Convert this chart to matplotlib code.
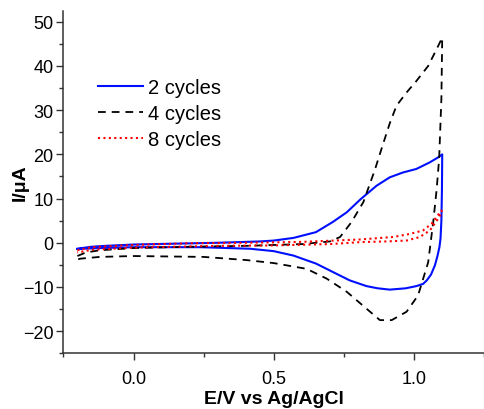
import matplotlib
matplotlib.use("Agg")
import matplotlib.pyplot as plt
from matplotlib.ticker import MultipleLocator

plt.rcParams["font.family"] = ["Liberation Sans", "DejaVu Sans"]

# 2 cycles (blue, solid): forward sweep then reverse sweep
E_2 = [-0.20, -0.15, -0.10, 0.00, 0.15, 0.30, 0.45, 0.50, 0.57, 0.65, 0.71, 0.76,
       0.81, 0.866, 0.913, 0.96, 1.008, 1.056, 1.085, 1.100,
       1.099, 1.097, 1.094, 1.090, 1.083, 1.074, 1.060, 1.045, 1.032, 1.008,
       0.970, 0.913, 0.870, 0.830, 0.770, 0.710, 0.650, 0.570, 0.500, 0.415,
       0.237, 0.000, -0.120, -0.200]
I_2 = [-1.35, -0.9, -0.7, -0.4, -0.2, 0.0, 0.3, 0.5, 1.1, 2.4, 4.7, 6.9,
       9.9, 12.9, 14.8, 15.9, 16.7, 18.2, 19.3, 20.0,
       12.0, 5.0, 1.0, -1.0, -3.0, -5.1, -7.2, -8.5, -9.3, -9.8,
       -10.3, -10.6, -10.3, -9.8, -8.5, -6.6, -4.7, -2.9, -1.9, -1.35,
       -1.0, -1.0, -1.2, -1.4]

# 4 cycles (black, dashed)
E_4 = [-0.20, -0.17, -0.12, 0.00, 0.20, 0.40, 0.60, 0.70, 0.736, 0.777, 0.819,
       0.86, 0.89, 0.913, 0.937, 0.973, 1.008, 1.05, 1.08, 1.100,
       1.097, 1.089, 1.080, 1.068, 1.050, 1.014, 0.973, 0.920, 0.878, 0.830,
       0.760, 0.688, 0.617, 0.500, 0.400, 0.250, 0.000, -0.120, -0.190, -0.200]
I_4 = [-3.0, -2.2, -1.7, -1.2, -0.9, -0.7, -0.3, 0.3, 1.3, 4.7, 9.2,
       16.5, 22.5, 27.0, 31.0, 34.0, 36.6, 40.0, 43.8, 46.4,
       32.5, 19.0, 12.0, 4.7, -4.4, -11.9, -15.6, -17.5, -17.5, -14.9,
       -11.1, -8.1, -5.9, -4.6, -3.9, -3.2, -3.0, -3.2, -3.6, -3.8]

# 8 cycles (red, dotted)
E_8 = [-0.20, -0.15, 0.00, 0.20, 0.40, 0.60, 0.81, 0.84, 0.925, 0.985, 1.032,
       1.062, 1.097, 1.100, 1.085, 1.056, 1.020, 0.973, 0.900, 0.810, 0.700,
       0.500, 0.300, 0.000, -0.150, -0.200]
I_8 = [-1.7, -1.0, -0.5, -0.1, 0.0, 0.2, 0.75, 0.9, 1.3, 2.0, 2.8,
       4.3, 7.3, 7.0, 5.4, 2.8, 1.3, 0.5, 0.3, 0.15, -0.3,
       -0.6, -0.7, -1.1, -1.6, -2.2]

fig = plt.figure(figsize=(4.85, 4.10), dpi=100)
ax = fig.add_axes([0.1306, 0.1359, 0.868, 0.8356])

ax.plot(E_2, I_2, color="#0010ff", linewidth=1.5, label="2 cycles")
ax.plot(E_4, I_4, color="black", linewidth=1.3, linestyle=(0, (4.3, 3.3)), label="4 cycles")
ax.plot(E_8, I_8, color="#ff0000", linewidth=1.5, linestyle=(0, (1, 1.6)), label="8 cycles")

ax.set_xlim(-0.25, 1.25)
ax.set_ylim(-25, 52.5)
ax.xaxis.set_major_locator(MultipleLocator(0.5))
ax.xaxis.set_minor_locator(MultipleLocator(0.25))
ax.yaxis.set_major_locator(MultipleLocator(10))
ax.yaxis.set_minor_locator(MultipleLocator(5))
ax.set_xticks([0.0, 0.5, 1.0])
ax.set_xticklabels(["0.0", "0.5", "1.0"])

for side in ["top", "right"]:
    ax.spines[side].set_visible(False)
for side in ["left", "bottom"]:
    ax.spines[side].set_color("#333333")
    ax.spines[side].set_linewidth(1.1)

ax.tick_params(which="major", direction="out", length=5, width=1.0, color="#333333",
               labelsize=13, pad=2)
ax.tick_params(which="minor", direction="out", length=3, width=1.0, color="#333333")
ax.tick_params(axis="x", which="major", pad=7)

ax.set_xlabel("E/V vs Ag/AgCl", fontsize=14, fontweight="bold", labelpad=2)
ax.set_ylabel("I/\u03bcA", fontsize=14, fontweight="bold", labelpad=-4)

ax.legend(loc="upper left", bbox_to_anchor=(0.04, 0.857), frameon=False,
          fontsize=14.5, handlelength=2.2, handletextpad=0.28, labelspacing=0.36)

fig.savefig("out.png", dpi=100)
